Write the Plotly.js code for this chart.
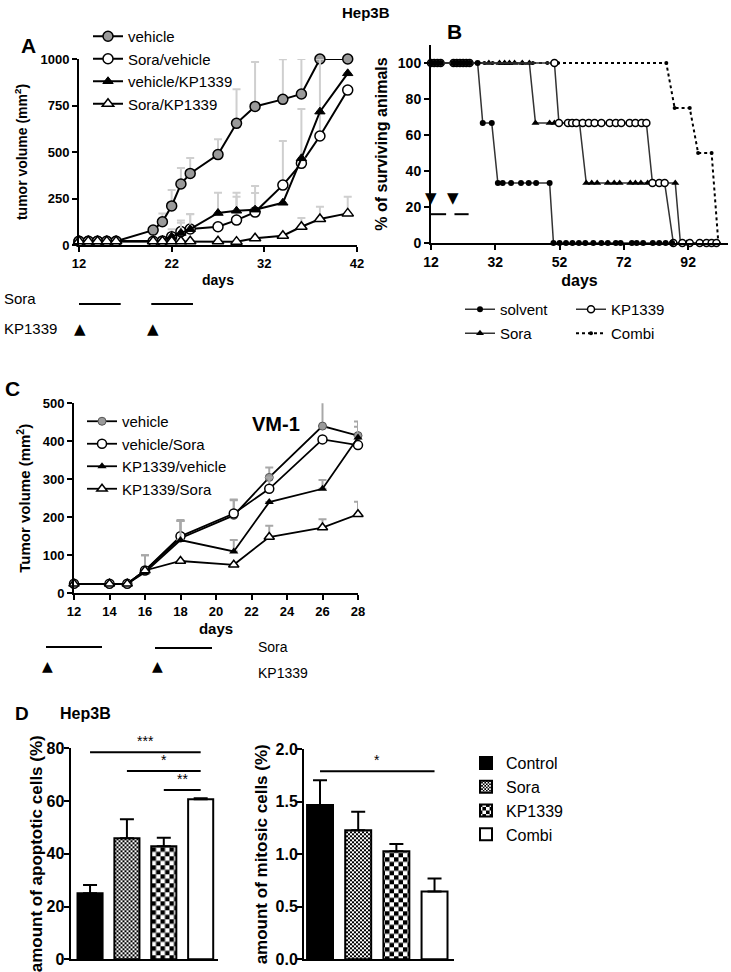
<!DOCTYPE html>
<html><head><meta charset="utf-8">
<script src="https://cdn.plot.ly/plotly-3.0.1.min.js"></script>
<style>html,body{margin:0;padding:0;background:#fff}#chart{width:731px;height:972px}</style>
</head><body><div id="chart"></div>
<script>
// ---------- Panel A (Hep3B tumour volume) ----------
const daysA = [12,13,14,15,16,20,21,22,23,24,27,29,31,34,36,38,41];
const vehicleA      = [20,20,20,20,20,80,125,210,328,385,486,654,745,783,812,1000,1000];
const vehicleAErr   = [0,0,0,0,0,0,45,86,86,83,82,183,239,215,188,0,0];
const soraVehA      = [20,20,20,20,20,20,22,45,72,86,98,134,177,322,439,586,833];
const soraVehAErr   = [0,0,0,0,0,0,0,40,60,80,0,126,103,237,0,414,0];
const vehKPA        = [20,20,20,20,20,20,25,45,65,85,172,184,190,227,466,717,923];
const vehKPAErr     = [0,0,0,0,0,0,0,0,55,80,109,97,127,0,265,0,0];
const soraKPA       = [20,20,20,20,20,20,20,20,20,20,20,18,36,50,98,140,170];
const soraKPAErr    = [0,0,0,0,0,0,0,0,0,0,0,0,0,0,47,66,90];
const soraPeriodsA  = [[12,16.5],[19.8,24.3]];
const kpDaysA       = [12.1,20];

// ---------- Panel B (survival) ----------
const solventDays = [12,13,14,15,19,20,21,22,23,24,26.5,28.1,30.9,32.8,34.3,36.9,40,42.4,44.7,48.9,50.1,52,54,56,58,60,62.5,65,67,69.5,71,74.5,76,78,81,83,85,87];
const solventSurv = [100,100,100,100,100,100,100,100,100,100,100,66.7,66.7,33.3,33.3,33.3,33.3,33.3,33.3,33.3,0,0,0,0,0,0,0,0,0,0,0,0,0,0,0,0,0,0];
const kpDaysB2    = [12,13,14,15,19,20,21,22,23,24,50.4,51.8,54.6,55.9,57.2,59.2,61.1,62.9,65,67.6,69.5,71.2,73.8,75.6,77.5,79,80.9,83,84.7,87.4,90.2,92.5,95.6,97.7,99.3,100.8];
const kpSurv      = [100,100,100,100,100,100,100,100,100,100,100,66.7,66.7,66.7,66.7,66.7,66.7,66.7,66.7,66.7,66.7,66.7,66.7,66.7,66.7,66.7,33.3,33.3,33.3,0,0,0,0,0,0,0];
const soraDaysB   = [12,13,14,15,19,20,21,22,23,24,30,33.3,34.9,36.4,38,40.4,42.6,44.5,48.9,50.4,58.2,60.3,62,63.7,67,69,70.7,74,75.6,77.3,79.4,88,89.6,91.5,101.4];
const soraSurv    = [100,100,100,100,100,100,100,100,100,100,100,100,100,100,100,100,100,66.7,66.7,66.7,66.7,33.3,33.3,33.3,33.3,33.3,33.3,33.3,33.3,33.3,33.3,33.3,0,0,0];
const combiDays   = [12,13,14,19,20,21,22,23,24,28.6,31.2,33.3,34.9,36.4,40.4,43.7,48.2,49.7,51.5,85.2,87.8,92.5,95.1,99.3,101.4];
const combiSurv   = [100,100,100,100,100,100,100,100,100,100,100,100,100,100,100,100,100,100,100,100,75,75,50,50,0];
const soraPeriodsB = [[12,16.7],[19.3,23.7]];
const kpDaysB      = [12,18.8];

// ---------- Panel C (VM-1) ----------
const daysC      = [12,14,15,16,18,21,23,26,28];
const vehicleC   = [25,25,25,60,145,205,305,440,415];
const vehicleCErr= [0,0,0,40,48,40,26,86,37];
const vehSoraC   = [25,25,25,60,150,210,275,405,390];
const vehSoraCErr= [0,0,0,0,40,37,30,0,0];
const kpVehC     = [25,25,25,55,140,110,240,275,410];
const kpVehCErr  = [0,0,0,0,50,30,0,23,28];
const kpSoraC    = [25,25,25,60,85,75,148,173,208];
const kpSoraCErr = [0,0,0,40,0,0,30,22,33];

// ---------- Panel D (Hep3B histology) ----------
const groupsD     = ['Control','Sora','KP1339','Combi'];
const apoptotic   = [25.0,45.9,42.9,60.7];
const apoptoticErr= [3.2,7.2,3.2,0.4];
const mitotic     = [1.47,1.23,1.03,0.645];
const mitoticErr  = [0.235,0.175,0.067,0.125];

const FONT = 'Liberation Sans, Arial, sans-serif';
const W = 731, H = 972;
const px = v => v / W;
const py = v => 1 - v / H;
const nz = a => a.map(v => v > 0 ? v : null);
const zeros = a => a.map(() => 0);

function errY(arr, color, w) {
  return {type:'data', symmetric:false, array:nz(arr), arrayminus:zeros(arr), color:color, thickness:2, width:w};
}
function axis(extra) {
  return Object.assign({
    showline:true, linecolor:'#000', linewidth:2, ticks:'outside', ticklen:5, tickwidth:2,
    tickcolor:'#000', showgrid:false, zeroline:false, fixedrange:true, automargin:false,
    tickfont:{family:FONT, size:13, weight:'bold', color:'#000'}
  }, extra);
}

const traces = [];
// Panel A
const lineA = {color:'#000', width:2};
traces.push({x:daysA, y:vehicleA, name:'vehicle', type:'scatter', mode:'lines+markers', xaxis:'x', yaxis:'y', legend:'legend',
  line:lineA, marker:{symbol:'circle', size:10, color:'#9a9a9a', line:{color:'#000', width:1.5}}, error_y:errY(vehicleAErr,'#cfcfcf',4), cliponaxis:false});
traces.push({x:daysA, y:soraVehA, name:'Sora/vehicle', type:'scatter', mode:'lines+markers', xaxis:'x', yaxis:'y', legend:'legend',
  line:lineA, marker:{symbol:'circle', size:10, color:'#fff', line:{color:'#000', width:1.5}}, error_y:errY(soraVehAErr,'#cfcfcf',4), cliponaxis:false});
traces.push({x:daysA, y:vehKPA, name:'vehicle/KP1339', type:'scatter', mode:'lines+markers', xaxis:'x', yaxis:'y', legend:'legend',
  line:lineA, marker:{symbol:'triangle-up', size:9, color:'#000', line:{color:'#000', width:1}}, error_y:errY(vehKPAErr,'#cfcfcf',4), cliponaxis:false});
traces.push({x:daysA, y:soraKPA, name:'Sora/KP1339', type:'scatter', mode:'lines+markers', xaxis:'x', yaxis:'y', legend:'legend',
  line:lineA, marker:{symbol:'triangle-up', size:10, color:'#fff', line:{color:'#000', width:1.5}}, error_y:errY(soraKPAErr,'#cfcfcf',4), cliponaxis:false});

// Panel B
const lineB = {color:'#333', width:1.5};
traces.push({x:combiDays, y:combiSurv, name:'Combi', type:'scatter', mode:'lines+markers', xaxis:'x2', yaxis:'y2', legend:'legend3',
  line:{color:'#000', width:2, dash:'dot'}, marker:{symbol:'circle', size:4, color:'#000'}, cliponaxis:false});
traces.push({x:soraDaysB, y:soraSurv, name:'Sora', type:'scatter', mode:'lines+markers', xaxis:'x2', yaxis:'y2', legend:'legend3',
  line:lineB, marker:{symbol:'triangle-up', size:7, color:'#000'}, cliponaxis:false});
traces.push({x:kpDaysB2, y:kpSurv, name:'KP1339', type:'scatter', mode:'lines+markers', xaxis:'x2', yaxis:'y2', legend:'legend2',
  line:lineB, marker:{symbol:'circle', size:7, color:'#fff', line:{color:'#000', width:1.5}}, cliponaxis:false});
traces.push({x:solventDays, y:solventSurv, name:'solvent', type:'scatter', mode:'lines+markers', xaxis:'x2', yaxis:'y2', legend:'legend2',
  line:lineB, marker:{symbol:'circle', size:6, color:'#000'}, cliponaxis:false});

// Panel C
const lineC = {color:'#000', width:1.8};
traces.push({x:daysC, y:vehicleC, name:'vehicle', type:'scatter', mode:'lines+markers', xaxis:'x3', yaxis:'y3', legend:'legend4',
  line:lineC, marker:{symbol:'circle', size:8, color:'#9a9a9a', line:{color:'#555', width:1}}, error_y:errY(vehicleCErr,'#a8a8a8',4), cliponaxis:false});
traces.push({x:daysC, y:vehSoraC, name:'vehicle/Sora', type:'scatter', mode:'lines+markers', xaxis:'x3', yaxis:'y3', legend:'legend4',
  line:lineC, marker:{symbol:'circle', size:9, color:'#fff', line:{color:'#000', width:1.5}}, error_y:errY(vehSoraCErr,'#a8a8a8',4), cliponaxis:false});
traces.push({x:daysC, y:kpVehC, name:'KP1339/vehicle', type:'scatter', mode:'lines+markers', xaxis:'x3', yaxis:'y3', legend:'legend4',
  line:lineC, marker:{symbol:'triangle-up', size:8, color:'#000'}, error_y:errY(kpVehCErr,'#a8a8a8',4), cliponaxis:false});
traces.push({x:daysC, y:kpSoraC, name:'KP1339/Sora', type:'scatter', mode:'lines+markers', xaxis:'x3', yaxis:'y3', legend:'legend4',
  line:lineC, marker:{symbol:'triangle-up', size:9, color:'#fff', line:{color:'#000', width:1.5}}, error_y:errY(kpSoraCErr,'#a8a8a8',4), cliponaxis:false});

// Panel D bars (checkerboard fills are applied to the library's pattern tiles after drawing)
const patterns = [
  {shape:''},
  {shape:'.', size:4, solidity:0.5, fgcolor:'#000', bgcolor:'#fff'},
  {shape:'.', size:9, solidity:0.5, fgcolor:'#000', bgcolor:'#fff'},
  {shape:''}
];
const fills = ['#000','#fff','#fff','#fff'];
groupsD.forEach((g, i) => {
  traces.push({type:'bar', x:[i], y:[apoptotic[i]], name:g, xaxis:'x4', yaxis:'y4', legend:'legend5', width:0.68,
    marker:{color:fills[i], pattern:patterns[i], line:{color:'#000', width:2}},
    error_y:{type:'data', symmetric:false, array:[apoptoticErr[i]], arrayminus:[0], color:'#000', thickness:2, width:7}});
  traces.push({type:'bar', x:[i], y:[mitotic[i]], name:g, xaxis:'x5', yaxis:'y5', showlegend:false, width:0.68,
    marker:{color:fills[i], pattern:patterns[i], line:{color:'#000', width:2}},
    error_y:{type:'data', symmetric:false, array:[mitoticErr[i]], arrayminus:[0], color:'#000', thickness:2, width:7}});
});

const annotations = [];
const shapes = [];
function txt(x, y, text, size, bold, extra) {
  annotations.push(Object.assign({xref:'paper', yref:'paper', x:px(x), y:py(y), text:text, showarrow:false,
    xanchor:'center', yanchor:'middle', font:{family:FONT, size:size, color:'#000', weight: bold ? 'bold' : 'normal'}}, extra || {}));
}
txt(366, 12, 'Hep3B', 15, true);
txt(28, 46, 'A', 21, true);
txt(455, 32, 'B', 21, true);
txt(12, 388, 'C', 21, true);
txt(22, 713, 'D', 19, true);
txt(58, 713, 'Hep3B', 16, true, {xanchor:'left'});
txt(250, 424, 'VM-1', 20, true, {xanchor:'left'});

// Panel A schedule
txt(2, 298, 'Sora', 15, false, {xanchor:'left'});
txt(2, 328, 'KP1339', 15, false, {xanchor:'left'});
soraPeriodsA.forEach(p => shapes.push({type:'line', xref:'x', yref:'paper', x0:p[0], x1:p[1], y0:py(304), y1:py(304), line:{color:'#000', width:2}}));
kpDaysA.forEach(d => annotations.push({xref:'x', yref:'paper', x:d, y:py(329), text:'▲', showarrow:false, font:{family:'DejaVu Sans', size:15, color:'#000'}}));

// Panel B schedule
kpDaysB.forEach(d => annotations.push({xref:'x2', yref:'y2', x:d, y:25, text:'▼', showarrow:false, font:{family:'DejaVu Sans', size:15, color:'#000'}}));
soraPeriodsB.forEach(p => shapes.push({type:'line', xref:'x2', yref:'y2', x0:p[0], x1:p[1], y0:16, y1:16, line:{color:'#000', width:2}}));

// Panel C schedule
shapes.push({type:'line', xref:'paper', yref:'paper', x0:px(46), x1:px(102), y0:py(647), y1:py(647), line:{color:'#000', width:2}});
shapes.push({type:'line', xref:'paper', yref:'paper', x0:px(155), x1:px(212), y0:py(648), y1:py(648), line:{color:'#000', width:2}});
txt(47, 666, '▲', 14, false, {font:{family:'DejaVu Sans', size:14, color:'#000'}});
txt(157, 666, '▲', 14, false, {font:{family:'DejaVu Sans', size:14, color:'#000'}});
txt(256, 647, 'Sora', 14, false, {xanchor:'left'});
txt(256, 673, 'KP1339', 14, false, {xanchor:'left'});

// Panel D significance bars
function sig(xa, ya, i0, i1, y, label, off) {
  shapes.push({type:'line', xref:xa, yref:ya, x0:i0, x1:i1, y0:y, y1:y, line:{color:'#000', width:2}});
  annotations.push({xref:xa, yref:ya, x:(i0+i1)/2, y:y+off, text:label, showarrow:false, yanchor:'bottom',
    font:{family:FONT, size:14, color:'#000'}});
}
sig('x4','y4', 0, 3, 78.5, '***', 0.5);
sig('x4','y4', 1, 3, 71.4, '*', 0.5);
sig('x4','y4', 2, 3, 64.2, '**', 0.5);
sig('x5','y5', 0, 3, 1.79, '*', 0.01);

const layout = {
  width:W, height:H, margin:{l:0, r:0, t:0, b:0}, paper_bgcolor:'#fff', plot_bgcolor:'rgba(0,0,0,0)',
  font:{family:FONT, color:'#000'}, barmode:'overlay', showlegend:true,
  xaxis: axis({domain:[px(79), px(357)], anchor:'y', range:[12,42], tickvals:[12,22,32,42],
    title:{text:'days', font:{family:FONT, size:14, weight:'bold'}, standoff:6}}),
  yaxis: axis({domain:[py(245), py(59)], anchor:'x', range:[0,1000], tickvals:[0,250,500,750,1000],
    title:{text:'tumor volume (mm<sup>2</sup>)', font:{family:FONT, size:14, weight:'bold'}, standoff:10}}),
  xaxis2: axis({domain:[px(431), px(728)], anchor:'y2', range:[12,104.4], tickvals:[12,32,52,72,92],
    tickfont:{family:FONT, size:14, weight:'bold', color:'#000'},
    title:{text:'days', font:{family:FONT, size:16, weight:'bold'}, standoff:6}}),
  yaxis2: axis({domain:[py(243), py(45)], anchor:'x2', range:[0,110], tickvals:[0,20,40,60,80,100],
    tickfont:{family:FONT, size:14, weight:'bold', color:'#000'},
    title:{text:'% of surviving animals', font:{family:FONT, size:16, weight:'bold'}, standoff:6}}),
  xaxis3: axis({domain:[px(74), px(358)], anchor:'y3', range:[12,28], dtick:2, tick0:12,
    title:{text:'days', font:{family:FONT, size:15, weight:'bold'}, standoff:6}}),
  yaxis3: axis({domain:[py(593.3), py(403.3)], anchor:'x3', range:[0,500], dtick:100,
    title:{text:'Tumor volume (mm<sup>2</sup>)', font:{family:FONT, size:15, weight:'bold'}, standoff:8}}),
  xaxis4: axis({domain:[px(70.5), px(218)], anchor:'y4', range:[-0.53,3.47], showticklabels:false, ticks:''}),
  yaxis4: axis({domain:[py(959.3), py(748.3)], anchor:'x4', range:[0,80], dtick:20, ticklabelstandoff:-4,
    tickfont:{family:FONT, size:16, weight:'bold', color:'#000'},
    title:{text:'amount of apoptotic cells (%)', font:{family:FONT, size:17, weight:'bold'}, standoff:0}}),
  xaxis5: axis({domain:[px(304), px(454)], anchor:'y5', range:[-0.42,3.51], showticklabels:false, ticks:''}),
  yaxis5: axis({domain:[py(959.3), py(749.3)], anchor:'x5', range:[0,2], dtick:0.5, tickformat:'.1f', ticklabelstandoff:-4,
    tickfont:{family:FONT, size:16, weight:'bold', color:'#000'},
    title:{text:'amount of mitosic cells (%)', font:{family:FONT, size:17, weight:'bold'}, standoff:4}}),
  legend:  {x:px(88), y:py(20), xanchor:'left', yanchor:'top', bgcolor:'rgba(0,0,0,0)', font:{family:FONT, size:15}, tracegroupgap:0},
  legend2: {x:px(460), y:py(293), xanchor:'left', yanchor:'top', orientation:'h', entrywidth:66, bgcolor:'rgba(0,0,0,0)', font:{family:FONT, size:15}, traceorder:'reversed'},
  legend3: {x:px(460), y:py(317), xanchor:'left', yanchor:'top', orientation:'h', entrywidth:66, bgcolor:'rgba(0,0,0,0)', font:{family:FONT, size:15}, traceorder:'reversed'},
  legend4: {x:px(82), y:py(405), xanchor:'left', yanchor:'top', bgcolor:'rgba(0,0,0,0)', font:{family:FONT, size:15}, tracegroupgap:0},
  legend5: {x:px(466), y:py(746), xanchor:'left', yanchor:'top', bgcolor:'rgba(0,0,0,0)', font:{family:FONT, size:16}, tracegroupgap:0},
  annotations: annotations, shapes: shapes
};

Plotly.newPlot('chart', traces, layout, {staticPlot:true, displayModeBar:false}).then(gd => {
  // turn the library's dot pattern tiles into checkerboard tiles (cell = half the tile)
  const NS = 'http://www.w3.org/2000/svg';
  gd.querySelectorAll('pattern').forEach(p => {
    const w = parseFloat(p.getAttribute('width'));
    if (!(w > 0)) return;
    const c = w / 2;
    while (p.firstChild) p.removeChild(p.firstChild);
    [[0,0,w,w,'#fff'],[0,0,c,c,'#000'],[c,c,c,c,'#000']].forEach(r => {
      const el = document.createElementNS(NS, 'rect');
      el.setAttribute('x', r[0]); el.setAttribute('y', r[1]);
      el.setAttribute('width', r[2]); el.setAttribute('height', r[3]);
      el.setAttribute('fill', r[4]);
      p.appendChild(el);
    });
  });
});
</script></body></html>
